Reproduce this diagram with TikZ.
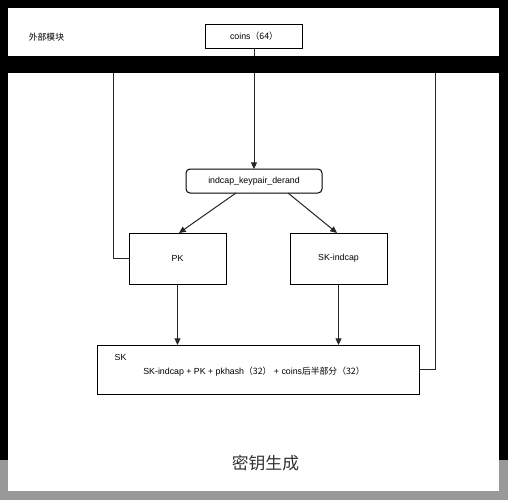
\documentclass[tikz,border=0pt]{standalone}
\usepackage{fontspec}
\setmainfont{Liberation Sans}
\newfontfamily\cjk{Noto Sans CJK SC}
\usetikzlibrary{arrows.meta,calc}

\tikzset{
  smalltext/.style={font=\fontsize{6.6}{8}\selectfont},
  box/.style={draw=black, line width=0.75pt, fill=white, inner sep=0pt, outer sep=0pt, smalltext},
  link/.style={draw=black!85, line width=0.75pt},
  arr/.style={link, -{Triangle[length=5pt,width=4.5pt]}},
}

\begin{document}
\begin{tikzpicture}[x=0.75pt,y=0.75pt,yscale=-1,xscale=1]
	\useasboundingbox (0,0) rectangle (508,500);
	
	%Shape: Background
	\fill[black] (0,0) rectangle (508,500);
	\fill[black!40] (0,460) rectangle (508,500);
	%Shape: Rectangle [top band]
	\fill[white] (8,8) rectangle (499,56);
	%Shape: Rectangle [main panel]
	\fill[white] (8,73) rectangle (499,491);
	
	% Text Node
	\node[smalltext] (extmod) at (46.5,37) {\cjk 外部模块};
	%Shape: Rectangle
	\node[box, minimum width=72.75pt, minimum height=18pt] (coins) at (254,36) {coins{\cjk （64）}};
	%Shape: Rounded Rect
	\node[box, rounded corners=3pt, minimum width=102pt, minimum height=18pt] (derand) at (254,181) {indcap\_keypair\_derand};
	%Shape: Rectangle
	\node[box, minimum width=72.75pt, minimum height=38.25pt] (pk) at (177.5,258.5) {PK};
	%Shape: Rectangle
	\node[box, minimum width=72.75pt, minimum height=38.25pt] (skind) at (338.5,258.5) {SK-indcap};
	%Shape: Rectangle
	\node[box, minimum width=241.5pt, minimum height=36.75pt] (sk) at (258,369.5) {};
	% Text Node
	\node[smalltext] (sklabel) at (120.5,357) {SK};
	% Text Node
	\node[smalltext] (skparts) at (254,372) {SK-indcap + PK + pkhash{\cjk （32）} + coins{\cjk 后半部分（32）}};
	% Text Node
	\node[font=\cjk\fontsize{12.6}{15}\selectfont, text=black!80] (title) at (265.5,463) {密钥生成};
	
	\coordinate (lefttop) at (113,73);
	\coordinate (righttop) at (435,73);
	
	%Straight Lines
	\draw[arr] (coins) -- (derand);
	\draw[arr] ($(derand.south)+(-18,0)$) -- ($(pk.north)+(1.5,0)$);
	\draw[arr] ($(derand.south)+(34,0)$) -- ($(skind.north)+(-1.5,0)$);
	\draw[arr] (pk) -- (pk |- sk.north);
	\draw[arr] (skind) -- (skind |- sk.north);
	\draw[link] (pk.west) -| (lefttop);
	\draw[link] (sk.east) -| (righttop);
	
	%Shape: black gap over the lines
	\fill[black] (8,56) rectangle (499,73);
	
\end{tikzpicture}
\end{document}
